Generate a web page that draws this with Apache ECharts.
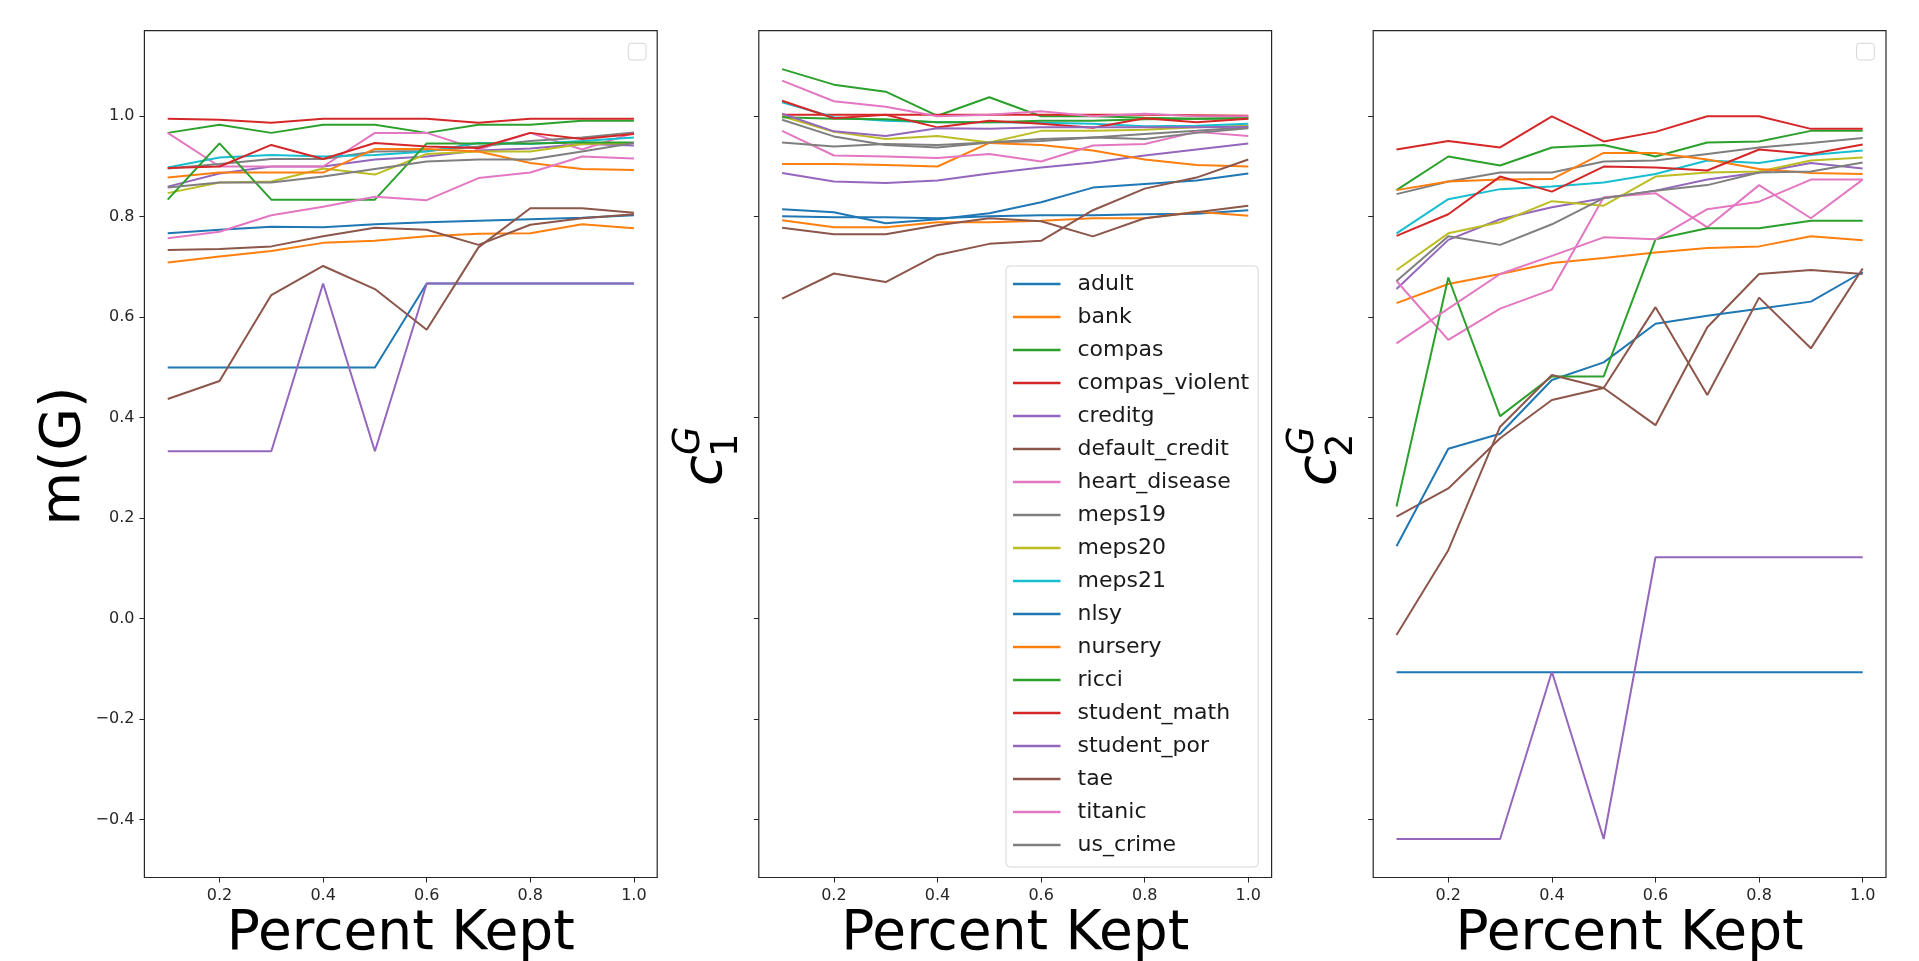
<!DOCTYPE html>
<html><head><meta charset="utf-8">
<script src="https://cdn.jsdelivr.net/npm/echarts@6/dist/echarts.min.js"></script>
<style>html,body{margin:0;padding:0;background:#fff}#chart{width:1919px;height:961px}</style>
</head><body><div id="chart"></div>
<script>
// ---------- data ----------
const percentKept = [0.1,0.2,0.3,0.4,0.5,0.6,0.7,0.8,0.9,1.0];
const datasetNames = ['adult','bank','compas','compas_violent','creditg','default_credit','heart_disease','meps19','meps20','meps21','nlsy','nursery','ricci','student_math','student_por','tae','titanic','us_crime'];
const xTicks = [0.2,0.4,0.6,0.8,1.0];
const yTicks = [-0.4,-0.2,0.0,0.2,0.4,0.6,0.8,1.0];

// m(G)
const adult_m          = [0.767,0.774,0.780,0.779,0.785,0.789,0.792,0.795,0.798,0.803];
const bank_m           = [0.709,0.721,0.732,0.748,0.752,0.761,0.766,0.767,0.785,0.777];
const compas_m         = [0.967,0.983,0.967,0.983,0.983,0.967,0.983,0.983,0.991,0.991];
const compas_violent_m = [0.995,0.993,0.987,0.995,0.995,0.995,0.987,0.995,0.995,0.995];
const creditg_m        = [0.860,0.886,0.900,0.900,0.914,0.920,0.932,0.936,0.945,0.942];
const default_credit_m = [0.734,0.736,0.741,0.761,0.778,0.774,0.744,0.784,0.797,0.805];
const heart_disease_m  = [0.967,0.900,0.900,0.900,0.967,0.967,0.934,0.967,0.934,0.967];
const meps19_m         = [0.896,0.905,0.915,0.915,0.930,0.931,0.940,0.951,0.958,0.968];
const meps20_m         = [0.847,0.868,0.870,0.896,0.884,0.925,0.930,0.930,0.945,0.947];
const meps21_m         = [0.898,0.918,0.923,0.920,0.923,0.930,0.947,0.945,0.951,0.958];
const nlsy_m           = [0.500,0.500,0.500,0.500,0.500,0.667,0.667,0.667,0.667,0.667];
const nursery_m        = [0.878,0.888,0.888,0.888,0.935,0.935,0.930,0.907,0.895,0.893];
const ricci_m          = [0.834,0.946,0.834,0.834,0.834,0.946,0.946,0.946,0.948,0.948];
const student_math_m   = [0.897,0.900,0.943,0.915,0.947,0.940,0.937,0.967,0.955,0.965];
const student_por_m    = [0.333,0.333,0.333,0.667,0.333,0.667,0.667,0.667,0.667,0.667];
const tae_m            = [0.437,0.473,0.644,0.702,0.656,0.575,0.739,0.817,0.817,0.808];
const titanic_m        = [0.757,0.770,0.803,0.820,0.840,0.833,0.877,0.888,0.920,0.916];
const us_crime_m       = [0.858,0.868,0.868,0.880,0.895,0.910,0.914,0.914,0.930,0.947];

// c1^G
const adult_c1          = [0.801,0.799,0.799,0.797,0.801,0.803,0.803,0.805,0.806,0.813];
const bank_c1           = [0.793,0.779,0.779,0.789,0.789,0.792,0.797,0.797,0.810,0.802];
const compas_c1         = [1.094,1.063,1.049,1.001,1.038,1.000,1.000,0.997,0.995,0.996];
const compas_violent_c1 = [1.003,1.003,1.003,1.003,1.003,1.003,1.003,1.003,1.002,1.001];
const creditg_c1        = [0.887,0.870,0.867,0.872,0.886,0.898,0.908,0.922,0.934,0.946];
const default_credit_c1 = [0.778,0.765,0.765,0.783,0.797,0.791,0.761,0.797,0.809,0.822];
const heart_disease_c1  = [1.071,1.030,1.019,1.000,1.003,1.010,1.000,1.005,1.000,1.000];
const meps19_c1         = [0.993,0.960,0.943,0.938,0.948,0.951,0.958,0.965,0.971,0.978];
const meps20_c1         = [1.000,0.969,0.955,0.961,0.948,0.971,0.971,0.973,0.978,0.981];
const meps21_c1         = [1.028,0.998,0.991,0.988,0.988,0.987,0.985,0.980,0.981,0.985];
const nlsy_c1           = [0.815,0.809,0.787,0.795,0.807,0.829,0.858,0.865,0.872,0.886];
const nursery_c1        = [0.905,0.905,0.903,0.900,0.947,0.943,0.932,0.914,0.903,0.900];
const ricci_c1          = [0.998,0.995,0.994,0.988,0.988,0.991,0.991,0.994,0.995,0.996];
const student_math_c1   = [1.031,0.996,1.003,0.978,0.991,0.985,0.977,0.996,0.988,0.995];
const student_por_c1    = [1.005,0.970,0.961,0.976,0.975,0.978,0.978,0.978,0.978,0.979];
const tae_c1            = [0.637,0.687,0.670,0.724,0.746,0.752,0.813,0.856,0.878,0.914];
const titanic_c1        = [0.971,0.922,0.920,0.917,0.925,0.910,0.942,0.945,0.969,0.961];
const us_crime_c1       = [0.948,0.940,0.945,0.943,0.948,0.955,0.958,0.955,0.967,0.976];

// c2^G
const adult_c2          = [-0.107,-0.107,-0.107,-0.107,-0.107,-0.107,-0.107,-0.107,-0.107,-0.107];
const bank_c2           = [0.628,0.666,0.686,0.708,0.718,0.729,0.738,0.741,0.761,0.753];
const compas_c2         = [0.853,0.920,0.902,0.938,0.943,0.920,0.948,0.950,0.971,0.971];
const compas_violent_c2 = [0.934,0.951,0.938,1.000,0.950,0.969,1.000,1.000,0.975,0.975];
const creditg_c2        = [0.656,0.754,0.795,0.819,0.837,0.852,0.874,0.888,0.907,0.896];
const default_credit_c2 = [0.203,0.259,0.359,0.435,0.459,0.385,0.580,0.686,0.694,0.686];
const heart_disease_c2  = [0.672,0.555,0.617,0.655,0.839,0.847,0.779,0.863,0.797,0.874];
const meps19_c2         = [0.845,0.870,0.888,0.888,0.910,0.912,0.925,0.938,0.947,0.957];
const meps20_c2         = [0.694,0.767,0.789,0.831,0.822,0.880,0.888,0.890,0.912,0.918];
const meps21_c2         = [0.767,0.835,0.855,0.860,0.868,0.885,0.912,0.907,0.923,0.932];
const nlsy_c2           = [0.144,0.338,0.368,0.475,0.510,0.587,0.603,0.617,0.631,0.690];
const nursery_c2        = [0.853,0.870,0.874,0.875,0.927,0.927,0.914,0.895,0.887,0.885];
const ricci_c2          = [0.223,0.679,0.403,0.482,0.482,0.755,0.777,0.777,0.792,0.792];
const student_math_c2   = [0.762,0.805,0.880,0.850,0.900,0.898,0.892,0.934,0.925,0.944];
const student_por_c2    = [-0.439,-0.439,-0.439,-0.106,-0.439,0.122,0.122,0.122,0.122,0.122];
const tae_c2            = [-0.033,0.136,0.382,0.485,0.459,0.620,0.445,0.639,0.538,0.697];
const titanic_c2        = [0.548,0.617,0.686,0.722,0.759,0.755,0.815,0.830,0.874,0.874];
const us_crime_c2       = [0.672,0.761,0.744,0.785,0.837,0.852,0.863,0.888,0.890,0.908];

// ---------- assembly ----------
const mG = [adult_m,bank_m,compas_m,compas_violent_m,creditg_m,default_credit_m,heart_disease_m,meps19_m,meps20_m,meps21_m,nlsy_m,nursery_m,ricci_m,student_math_m,student_por_m,tae_m,titanic_m,us_crime_m];
const c1G = [adult_c1,bank_c1,compas_c1,compas_violent_c1,creditg_c1,default_credit_c1,heart_disease_c1,meps19_c1,meps20_c1,meps21_c1,nlsy_c1,nursery_c1,ricci_c1,student_math_c1,student_por_c1,tae_c1,titanic_c1,us_crime_c1];
const c2G = [adult_c2,bank_c2,compas_c2,compas_violent_c2,creditg_c2,default_credit_c2,heart_disease_c2,meps19_c2,meps20_c2,meps21_c2,nlsy_c2,nursery_c2,ricci_c2,student_math_c2,student_por_c2,tae_c2,titanic_c2,us_crime_c2];
const panelsData = [mG, c1G, c2G];

const palette = ['#1f77b4','#ff7f0e','#2ca02c','#d62728','#9467bd','#8c564b','#e377c2','#7f7f7f','#bcbd22','#17becf'];

// matplotlib-like 5% margins
const allY = panelsData.flat(2);
const yLo = Math.min(...allY), yHi = Math.max(...allY);
const yPad = (yHi - yLo) * 0.05;
const xLo = Math.min(...percentKept), xHi = Math.max(...percentKept);
const xPad = (xHi - xLo) * 0.05;

const FONT = 'DejaVu Sans';
const gridLefts = [144.4, 758.8, 1373.2];
const gridTop = 30.6, gridW = 512.8, gridH = 846.9;

function fmt(v){ const s = Math.abs(v).toFixed(1); return v < -1e-9 ? '\u2212' + s : s; }

const grids = [], xAxes = [], yAxes = [], series = [];
gridLefts.forEach((L, i) => {
  grids.push({left: L, top: gridTop, width: gridW, height: gridH, show: true,
    borderColor: '#262626', borderWidth: 1.2, backgroundColor: '#fff'});
  xAxes.push({type: 'value', gridIndex: i, min: xLo - xPad, max: xHi + xPad, position: 'bottom',
    axisLine: {show: false, onZero: false}, splitLine: {show: false},
    axisTick: {show: true, length: 5, customValues: xTicks, lineStyle: {color: '#262626', width: 1}},
    axisLabel: {show: true, customValues: xTicks, formatter: fmt, fontSize: 16, fontFamily: FONT, color: '#262626', margin: 10}});
  yAxes.push({type: 'value', gridIndex: i, min: yLo - yPad, max: yHi + yPad, position: 'left',
    axisLine: {show: false, onZero: false}, splitLine: {show: false},
    axisTick: {show: true, length: 5, customValues: yTicks, lineStyle: {color: '#262626', width: 1}},
    axisLabel: {show: i === 0, customValues: yTicks, formatter: fmt, fontSize: 16, fontFamily: FONT, color: '#262626', margin: 10}});
  panelsData[i].forEach((arr, j) => {
    series.push({name: datasetNames[j], type: 'line', xAxisIndex: i, yAxisIndex: i,
      data: percentKept.map((x, k) => [x, arr[k]]),
      symbol: 'none', showSymbol: false, color: palette[j % 10],
      lineStyle: {width: 2}, emphasis: {disabled: true}, silent: true});
  });
});

function emptyLegend(right){
  return {type: 'rect', shape: {x: right - 17.7, y: 43.3, width: 17.7, height: 16.7, r: 3},
    style: {fill: 'rgba(255,255,255,0.8)', stroke: '#d6d6d6', lineWidth: 1}, z: 100};
}
function cLabel(xBase, sub){
  return {type: 'group', x: xBase, y: 455, rotation: Math.PI / 2, children: [
    {type: 'text', x: -31, y: -18.5, style: {text: 'c', fontSize: 56, fontStyle: 'italic', fontFamily: FONT, fill: '#000', align: 'left', verticalAlign: 'middle'}},
    {type: 'text', x: 0, y: -35.8, style: {text: 'G', fontSize: 37, fontStyle: 'italic', fontFamily: FONT, fill: '#000', align: 'left', verticalAlign: 'middle'}},
    {type: 'text', x: -2, y: 2.8, style: {text: sub, fontSize: 37, fontFamily: FONT, fill: '#000', align: 'left', verticalAlign: 'middle'}}
  ]};
}
const graphics = [
  emptyLegend(646), emptyLegend(1874.3),
  {type: 'text', x: 65, y: 456, rotation: Math.PI / 2, style: {text: 'm(G)', fontSize: 55, fontFamily: FONT, fill: '#000', align: 'center', verticalAlign: 'middle'}},
  cLabel(725, '1'), cLabel(725 + 614.4, '2')
];
gridLefts.forEach(L => graphics.push({type: 'text', x: L + gridW / 2, y: 934.7,
  style: {text: 'Percent Kept', fontSize: 55, fontFamily: FONT, fill: '#000', align: 'center', verticalAlign: 'middle'}}));

const chart = echarts.init(document.getElementById('chart'), null, {renderer: 'canvas'});
chart.setOption({
  animation: false,
  backgroundColor: '#fff',
  grid: grids, xAxis: xAxes, yAxis: yAxes, series: series,
  legend: {show: true, data: datasetNames, orient: 'vertical', left: 1006, top: 266,
    icon: 'rect', itemWidth: 47.5, itemHeight: 2.5, itemGap: 11,
    padding: [7, 9, 11, 7], backgroundColor: 'rgba(255,255,255,0.8)',
    borderColor: '#d6d6d6', borderWidth: 1, borderRadius: 4, selectedMode: false,
    textStyle: {fontSize: 22, fontFamily: FONT, color: '#1a1a1a', padding: [0, 0, 0, 12]}},
  graphic: graphics
});
</script></body></html>
